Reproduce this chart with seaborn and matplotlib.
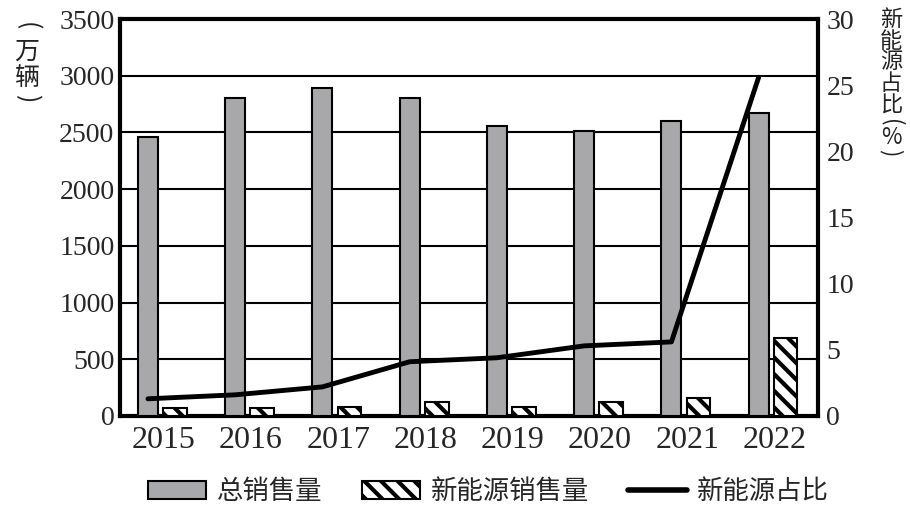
import pandas as pd
import matplotlib.pyplot as plt
import seaborn as sns
from matplotlib.lines import Line2D
from matplotlib.patches import Patch

sns.set_theme(style="white")
plt.rcParams["font.family"] = ["Liberation Serif", "Noto Sans CJK SC", "DejaVu Sans"]
plt.rcParams["hatch.linewidth"] = 3.0

# ------------------------------------------
# Data
# ------------------------------------------
years = ["2015", "2016", "2017", "2018", "2019", "2020", "2021", "2022"]
total_sales = [2460, 2800, 2890, 2800, 2560, 2510, 2600, 2670]   # 万辆
nev_sales = [70, 70, 75, 125, 80, 125, 160, 690]                  # 万辆
nev_share = [1.3, 1.6, 2.2, 4.1, 4.4, 5.3, 5.6, 25.6]             # %

series_names = ["总销售量", "新能源销售量"]

df = pd.DataFrame({
    "year": years * 2,
    "sales": total_sales + nev_sales,
    "kind": [series_names[0]] * len(years) + [series_names[1]] * len(years),
})

# ------------------------------------------
# Figure
# ------------------------------------------
W, H = 910, 507
fig = plt.figure(figsize=(W / 100, H / 100), dpi=100)
ax = fig.add_axes([0.1319, 0.1795, 0.767, 0.783])

gray = "#a7a8ab"
sns.barplot(data=df, x="year", y="sales", hue="kind", ax=ax,
            palette=[gray, "white"], width=0.6, dodge=True,
            edgecolor="black", linewidth=1.5, legend=False, zorder=3)

# narrow the grey bars and shift the pair a little left, like the original
for bar in ax.containers[0]:
    c = bar.get_x() + bar.get_width() / 2
    bar.set_width(0.23)
    bar.set_x(c - 0.03 - 0.115)
for bar in ax.containers[1]:
    c = bar.get_x() + bar.get_width() / 2
    bar.set_width(0.27)
    bar.set_x(c - 0.02 - 0.135)
    bar.set_hatch("\\\\")

ax.set_xlim(-0.5, len(years) - 0.5)
ax.set_ylim(0, 3500)
ax.set_yticks(range(0, 3501, 500))
ax.yaxis.grid(True, color="black", linewidth=1.5)
ax.set_axisbelow(True)
ax.set_xlabel("")
ax.set_ylabel("")

ax.set_xticks(range(len(years)))
ax.set_xticklabels(years, fontsize=23)
ax.set_xticks([i - 0.5 for i in range(len(years) + 1)], minor=True)
ax.tick_params(axis="x", which="major", length=0, pad=7)
ax.tick_params(axis="x", which="minor", length=6, width=2, color="black", direction="out")
ax.tick_params(axis="y", length=0, labelsize=20, pad=4)

for side in ["left", "right", "bottom", "top"]:
    ax.spines[side].set_color("black")
    ax.spines[side].set_linewidth(3)

# ------------------------------------------
# Share line on the right axis
# ------------------------------------------
ax2 = ax.twinx()
line_x = [i - 0.18 for i in range(len(years))]
sns.lineplot(x=line_x, y=nev_share, ax=ax2, color="black", linewidth=3.5, zorder=5)
ax2.set_ylim(0, 30)
ax2.set_yticks(range(0, 31, 5))
ax2.tick_params(axis="y", length=0, labelsize=20, pad=6)
ax2.set_ylabel("")
for side in ["left", "right", "bottom", "top"]:
    ax2.spines[side].set_visible(False)

# ------------------------------------------
# Axis titles: upright Chinese characters stacked, brackets turned
# ------------------------------------------
cjk = ["Noto Sans CJK SC"]


def stack_text(chars, x_px, y_px, size):
    for ch, y in zip(chars, y_px):
        rot = -90 if ch in "()" else 0
        fig.text(x_px / W, 1 - y / H, ch, fontsize=size, ha="center", va="center",
                 rotation=rot, family=cjk, color="#222222")


stack_text(["(", "万", "辆", ")"], 27, [26, 52, 78, 99], 18)
stack_text(["新", "能", "源", "占", "比", "(", "%", ")"], 891,
           [20, 41, 62, 83, 105, 123, 137, 153], 16)

# ------------------------------------------
# Legend
# ------------------------------------------
handles = [
    Patch(facecolor=gray, edgecolor="black", linewidth=1.5, label=series_names[0]),
    Patch(facecolor="white", edgecolor="black", linewidth=1.5, hatch="\\\\", label=series_names[1]),
    Line2D([0], [0], color="black", linewidth=4, label="新能源占比"),
]
fig.legend(handles=handles, loc="center", bbox_to_anchor=(0.537, 0.03), ncol=3,
           frameon=False, prop={"family": cjk, "size": 19},
           handlelength=2.2, handleheight=0.7, handletextpad=0.4, columnspacing=1.5)

fig.savefig("out.png", dpi=100)
